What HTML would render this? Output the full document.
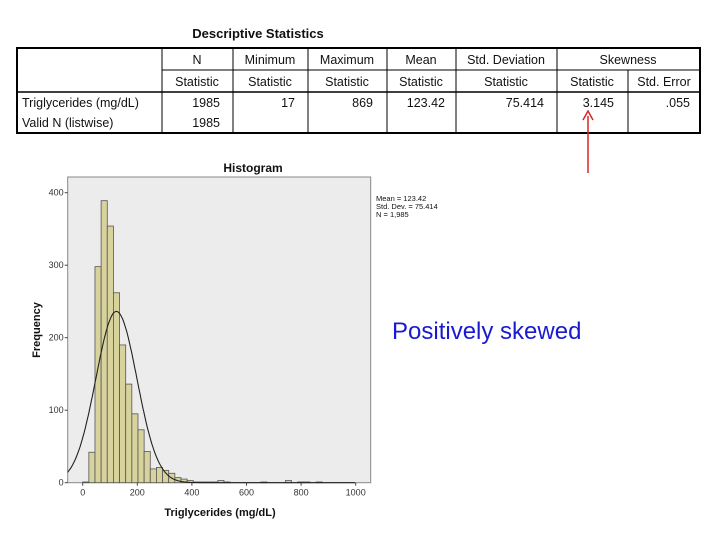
<!DOCTYPE html>
<html><head><meta charset="utf-8"><style>
body{margin:0;width:720px;height:540px;background:#fff;position:relative;overflow:hidden;font-family:"Liberation Sans",sans-serif}
.t{position:absolute;font-size:12.5px;color:#111;white-space:nowrap}
</style></head><body>
<div class="t" style="left:0;width:516px;text-align:center;top:26px;font-weight:bold;font-size:13px">Descriptive Statistics</div>
<svg width="720" height="140" style="position:absolute;left:0;top:0" font-family="Liberation Sans, sans-serif" font-size="12.5" fill="#111">
<g stroke="#000" stroke-width="1">
<rect x="17" y="48" width="683" height="85" fill="none" stroke-width="2"/>
<line x1="162" y1="70" x2="700" y2="70"/>
<line x1="17" y1="92" x2="700" y2="92" stroke-width="1.5"/>
<line x1="162" y1="48" x2="162" y2="133"/><line x1="233" y1="48" x2="233" y2="133"/>
<line x1="308" y1="48" x2="308" y2="133"/><line x1="387" y1="48" x2="387" y2="133"/>
<line x1="456" y1="48" x2="456" y2="133"/><line x1="557" y1="48" x2="557" y2="133"/>
<line x1="628" y1="70" x2="628" y2="133"/>
</g>
<g text-anchor="middle">
<text x="197" y="64">N</text><text x="270" y="64">Minimum</text><text x="347" y="64">Maximum</text><text x="421" y="64">Mean</text><text x="506" y="64">Std. Deviation</text><text x="628" y="64">Skewness</text>
<text x="197" y="86">Statistic</text><text x="270" y="86">Statistic</text><text x="347" y="86">Statistic</text><text x="421" y="86">Statistic</text><text x="506" y="86">Statistic</text><text x="592" y="86">Statistic</text><text x="664" y="86">Std. Error</text>
</g>
<text x="22" y="107">Triglycerides (mg/dL)</text><text x="22" y="127">Valid N (listwise)</text>
<g text-anchor="end">
<text x="220" y="107">1985</text><text x="220" y="127">1985</text><text x="295" y="107">17</text><text x="373" y="107">869</text><text x="445" y="107">123.42</text><text x="544" y="107">75.414</text><text x="614" y="107">3.145</text><text x="690" y="107">.055</text>
</g>
</svg>
<svg width="720" height="540" style="position:absolute;left:0;top:0">
<line x1="588" y1="116" x2="588" y2="173" stroke="#d22" stroke-width="1.5"/>
<path d="M583,120 L588,111 L593,120" fill="none" stroke="#d22" stroke-width="1.5"/>
</svg>
<div class="t" style="left:200px;width:106px;text-align:center;top:161px;font-weight:bold;font-size:12px">Histogram</div>
<div class="t" style="left:376px;top:195px;font-size:7.5px;line-height:8px">Mean = 123.42<br>Std. Dev. = 75.414<br>N = 1,985</div>
<div class="t" style="left:392px;top:318px;font-size:24px;color:#1a1ad0">Positively skewed</div>
<svg id="chart" width="720" height="540" style="position:absolute;left:0;top:0" font-family="Liberation Sans, sans-serif"></svg>
<script>
const binStart = 0;
const binWidth = 22.5;
const counts = [1,42,298,389,354,262,190,136,95,73,43,19,21,17,13,7,5,3,1,1,1,1,3,1,0,0,0,0,0,1,0,0,0,3,0,1,1,0,1,0];
const yTicks = [0,100,200,300,400];
const xTicks = [0,200,400,600,800,1000];
const meanVal = 123.42, sdVal = 75.414, nVal = 1985;
const NS="http://www.w3.org/2000/svg";
const svg=document.getElementById('chart');
const L=67.7,R=370.7,T=177,B=482.7;
const xs=v=>82.7+v*0.273;
const ys=v=>B-v*0.725;
function mk(t,a){const e=document.createElementNS(NS,t);for(const k in a)e.setAttribute(k,a[k]);svg.appendChild(e);return e;}
const bg=mk('rect',{x:L,y:T,width:R-L,height:B-T,fill:'#ececec',stroke:'#888'});


counts.forEach((c,i)=>{if(c<=0)return;
 const x0=xs(binStart+i*binWidth),x1=xs(binStart+(i+1)*binWidth);
 const r=mk('rect',{x:x0,y:ys(c),width:x1-x0,height:B-ys(c),fill:'#d8d29c',stroke:'#555','stroke-width':0.8});
 
 
});
let d='';
for(let v=-55;v<=1000;v+=3){const y=nVal*binWidth*Math.exp(-0.5*((v-meanVal)/sdVal)**2)/(sdVal*Math.sqrt(2*Math.PI));d+=(d?'L':'M')+xs(v).toFixed(1)+','+ys(y).toFixed(1);}
const cv=mk('path',{d:d,fill:'none',stroke:'#222','stroke-width':1.1});


yTicks.forEach(v=>{mk('line',{x1:L-3,x2:L,y1:ys(v),y2:ys(v),stroke:'#444'});
 const t=mk('text',{x:L-4,y:ys(v)+3,'text-anchor':'end','font-size':9,fill:'#333'});t.textContent=v;
 
 });
xTicks.forEach(v=>{mk('line',{x1:xs(v),x2:xs(v),y1:B,y2:B+3,stroke:'#444'});
 const t=mk('text',{x:xs(v),y:B+13,'text-anchor':'middle','font-size':9,fill:'#333'});t.textContent=v;
 
 });
const xt=mk('text',{x:220,y:516,'text-anchor':'middle','font-size':11,'font-weight':'bold',fill:'#111'});xt.textContent='Triglycerides (mg/dL)';


const yt=mk('text',{x:0,y:0,'text-anchor':'middle','font-size':11,'font-weight':'bold',fill:'#111',transform:'translate(40,330) rotate(-90)'});yt.textContent='Frequency';


</script>
</body></html>
